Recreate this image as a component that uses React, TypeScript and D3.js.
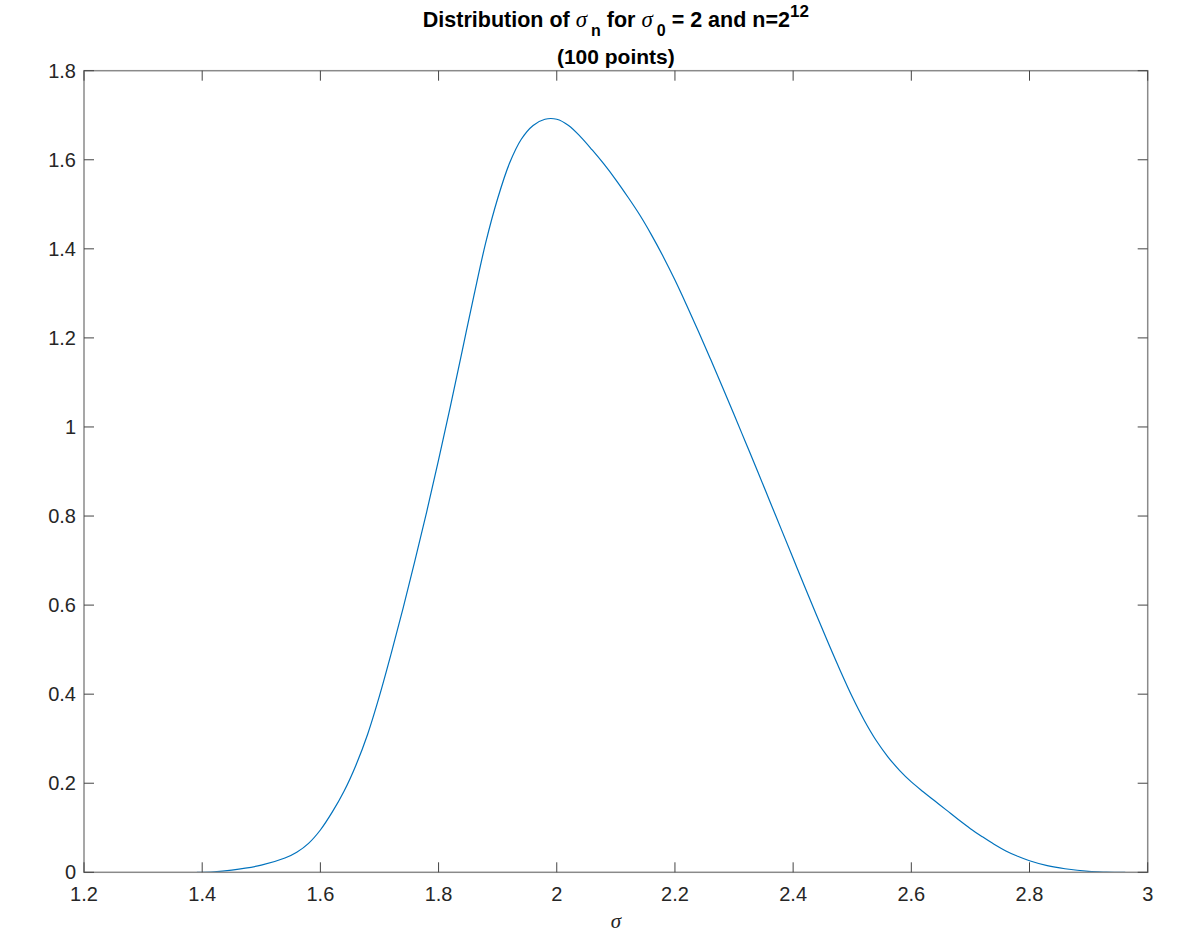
import React from "react";
import * as d3 from "d3";

const sigmaValues = [
  1.391, 1.42, 1.45, 1.5, 1.54, 1.56, 1.58, 1.6, 1.62, 1.64, 1.66, 1.68, 1.7, 1.72,
  1.74, 1.76, 1.78, 1.8, 1.82, 1.84, 1.86, 1.88, 1.9, 1.92, 1.94, 1.96, 1.98, 2.0,
  2.02, 2.04, 2.06, 2.08, 2.1, 2.12, 2.14, 2.16, 2.18, 2.2, 2.22, 2.24, 2.26, 2.28,
  2.3, 2.32, 2.34, 2.36, 2.38, 2.4, 2.42, 2.44, 2.46, 2.48, 2.5, 2.52, 2.54, 2.56,
  2.58, 2.6, 2.62, 2.64, 2.66, 2.68, 2.7, 2.72, 2.74, 2.76, 2.78, 2.8, 2.83, 2.86,
  2.9, 2.93, 2.962,
];
const densityValues = [
  0, 0.001, 0.005, 0.016, 0.032, 0.045, 0.065, 0.095, 0.135, 0.182, 0.24, 0.31, 0.396,
  0.492, 0.593, 0.7, 0.81, 0.926, 1.046, 1.171, 1.296, 1.415, 1.513, 1.592, 1.646,
  1.677, 1.691, 1.691, 1.677, 1.652, 1.622, 1.59, 1.555, 1.517, 1.477, 1.432, 1.383,
  1.33, 1.273, 1.214, 1.153, 1.091, 1.028, 0.964, 0.9, 0.835, 0.77, 0.705, 0.64, 0.576,
  0.513, 0.452, 0.394, 0.342, 0.297, 0.26, 0.229, 0.203, 0.181, 0.16, 0.139, 0.118,
  0.098, 0.08, 0.063, 0.048, 0.036, 0.026, 0.015, 0.008, 0.002, 0.0005, 0,
];
const xTicks = [1.2, 1.4, 1.6, 1.8, 2, 2.2, 2.4, 2.6, 2.8, 3];
const yTicks = [0, 0.2, 0.4, 0.6, 0.8, 1, 1.2, 1.4, 1.6, 1.8];

const W = 1198;
const H = 932;
const left = 84;
const right = 1147.7;
const top = 70.7;
const bottom = 872.3;
const font = "'Liberation Sans', Arial, Helvetica, sans-serif";
const serif = "'Liberation Serif', 'Times New Roman', serif";

export default function App() {
  const x = d3.scaleLinear().domain([1.2, 3]).range([left, right]);
  const y = d3.scaleLinear().domain([0, 1.8]).range([bottom, top]);
  const pts = sigmaValues.map((s, i) => [s, densityValues[i]] as [number, number]);
  const line = d3
    .line<[number, number]>()
    .x((d) => x(d[0]))
    .y((d) => y(d[1]))
    .curve(d3.curveCatmullRom.alpha(0.5));
  const tickLen = 10;
  const fmt = (v: number) => String(v);
  const tickColor = "#262626";
  return (
    <svg
      width={W}
      height={H}
      style={{ position: "absolute", left: 0, top: 0, background: "#fff" }}
    >
      <rect x={0} y={0} width={W} height={H} fill="#fff" />
      <path d={line(pts) || ""} fill="none" stroke="#0072BD" strokeWidth={1.2} />
      <rect
        x={left}
        y={top}
        width={right - left}
        height={bottom - top}
        fill="none"
        stroke="#8a8a8a"
        strokeWidth={1.5}
      />
      {xTicks.map((t) => (
        <g key={"x" + t}>
          <line x1={x(t)} x2={x(t)} y1={bottom} y2={bottom - tickLen} stroke="#444" strokeWidth={1} />
          <line x1={x(t)} x2={x(t)} y1={top} y2={top + tickLen} stroke="#444" strokeWidth={1} />
          <text
            x={x(t)}
            y={bottom + 29}
            textAnchor="middle"
            fontFamily={font}
            fontSize={20}
            fill={tickColor}
          >
            {fmt(t)}
          </text>
        </g>
      ))}
      {yTicks.map((t) => (
        <g key={"y" + t}>
          <line x1={left} x2={left + tickLen} y1={y(t)} y2={y(t)} stroke="#444" strokeWidth={1} />
          <line x1={right} x2={right - tickLen} y1={y(t)} y2={y(t)} stroke="#444" strokeWidth={1} />
          <text
            x={left - 8}
            y={y(t) + 7}
            textAnchor="end"
            fontFamily={font}
            fontSize={20}
            fill={tickColor}
          >
            {fmt(t)}
          </text>
        </g>
      ))}
      <text
        x={(left + right) / 2}
        y={928}
        textAnchor="middle"
        fontFamily={serif}
        fontStyle="italic"
        fontSize={21}
        fill={tickColor}
      >
        σ
      </text>
      <text
        x={(left + right) / 2}
        y={27}
        textAnchor="middle"
        fontFamily={font}
        fontWeight="bold"
        fontSize={21.5}
        fill="#000"
      >
        <tspan>Distribution of </tspan>
        <tspan fontFamily={serif} fontStyle="italic" fontWeight="normal" fontSize={23}>σ</tspan>
        <tspan fontSize={16} dy={9} dx={4}>n</tspan>
        <tspan dy={-9}> for </tspan>
        <tspan fontFamily={serif} fontStyle="italic" fontWeight="normal" fontSize={23}>σ</tspan>
        <tspan fontSize={16} dy={9} dx={4}>0</tspan>
        <tspan dy={-9}> = 2 and n=2</tspan>
        <tspan fontSize={17} dy={-10}>12</tspan>
      </text>
      <text
        x={(left + right) / 2}
        y={64}
        textAnchor="middle"
        fontFamily={font}
        fontWeight="bold"
        fontSize={21}
        fill="#000"
      >
        (100 points)
      </text>
    </svg>
  );
}
